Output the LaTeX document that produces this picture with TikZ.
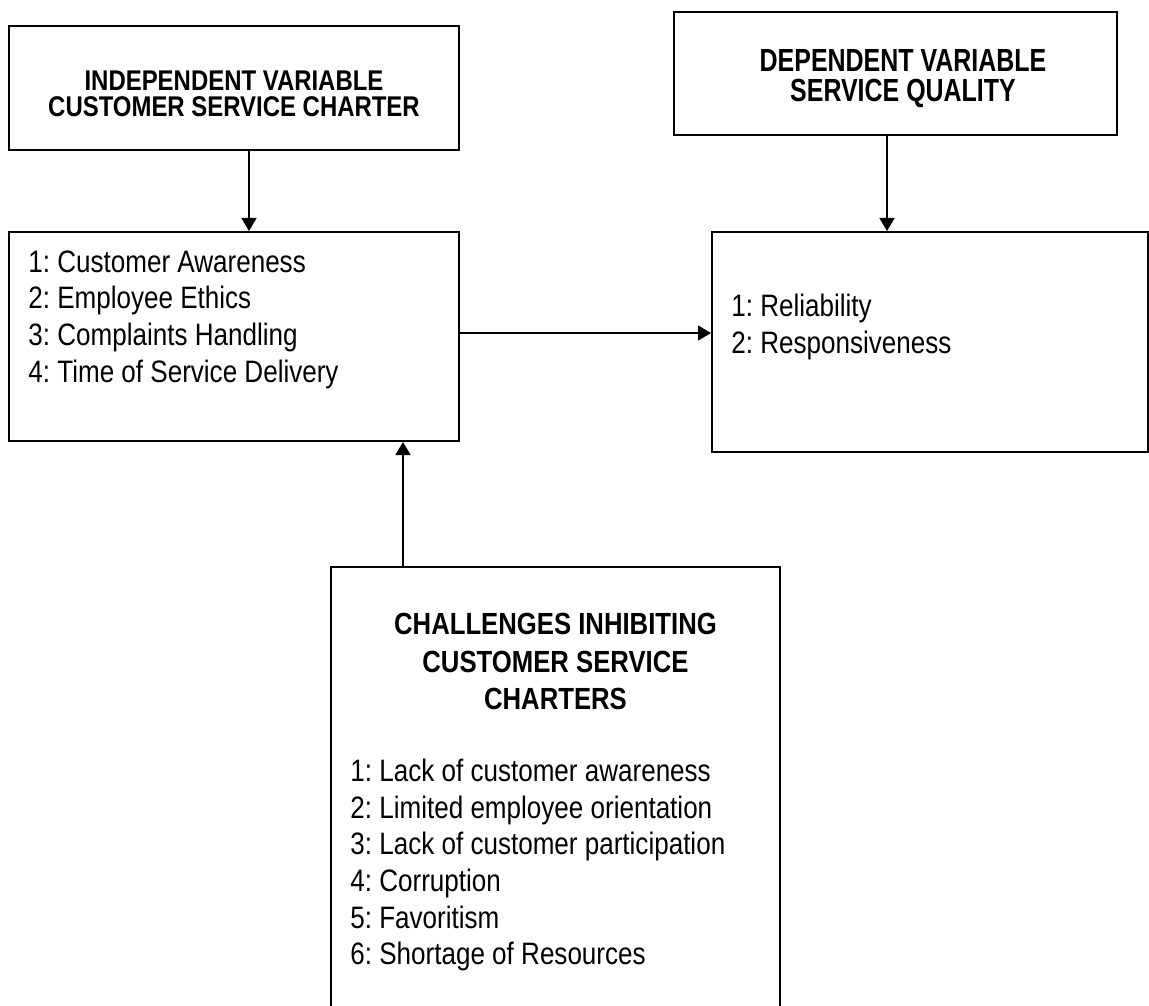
\documentclass[tikz,border=0pt]{standalone}
\usepackage{fontspec}
\setmainfont{Liberation Sans}[FakeStretch=0.84]
\newfontfamily\depfont{Liberation Sans}[FakeStretch=0.78]
\usetikzlibrary{arrows.meta}
\frenchspacing

\begin{document}
\begin{tikzpicture}[x=0.5pt, y=-0.5pt,
  box/.style={draw, line width=1pt, inner sep=0pt},
  head/.style={font=\bfseries\fontsize{14.25}{13.25}\selectfont, align=center, inner sep=0pt, anchor=north},
  items/.style={font=\fontsize{15.5}{18.35}\selectfont, align=left, inner sep=0pt, anchor=north west},
  arr/.style={-{Triangle[length=6.5pt, width=7.5pt]}, line width=0.7pt}]
\fill[white] (0,0) rectangle (1149,1005);
\useasboundingbox (0,0) rectangle (1149,1005);
\clip (0,0) rectangle (1149,1005);

% boxes
\node[box, minimum width=225pt, minimum height=62pt] (indep) at (234,88) {};
\node[box, minimum width=221.5pt, minimum height=61.5pt] (dep) at (895.5,73.5) {};
\node[box, minimum width=225pt, minimum height=104.5pt] (dims) at (234,336.5) {};
\node[box, minimum width=218pt, minimum height=110pt] (qual) at (930,342) {};
\node[box, minimum width=224.5pt, minimum height=224pt] (chal) at (555.5,791) {};

% headings
\node[head] (indeptxt) at (234,70) {INDEPENDENT VARIABLE\\CUSTOMER SERVICE CHARTER};
\node[head, font=\bfseries\depfont\fontsize{16}{15}\selectfont] (deptxt) at (903,49) {DEPENDENT VARIABLE\\SERVICE QUALITY};
\node[head, font=\bfseries\fontsize{15.3}{18.75}\selectfont] (chaltxt) at (555.5,613) {CHALLENGES INHIBITING\\CUSTOMER SERVICE\\CHARTERS};

% lists
\node[items] (dimslist) at (28,250) {1: Customer Awareness\\2: Employee Ethics\\3: Complaints Handling\\4: Time of Service Delivery};
\node[items] (quallist) at (731,294) {1: Reliability\\2: Responsiveness};
\node[items] (challist) at (350,758.5) {1: Lack of customer awareness\\2: Limited employee orientation\\3: Lack of customer participation\\4: Corruption\\5: Favoritism\\6: Shortage of Resources};

% arrows
\draw[arr] ([xshift=7.5pt]indep.south) -- ([xshift=7.5pt]dims.north);
\draw[arr] ([xshift=-4.25pt]dep.south) -- ([xshift=-4.25pt]dep.south |- qual.north);
\draw[arr] ([yshift=1.75pt]dims.east) -- ([yshift=1.75pt]dims.east -| qual.west);
\draw[arr] ([xshift=-76.25pt]chal.north) -- ([xshift=-76.25pt]chal.north |- dims.south);
\end{tikzpicture}
\end{document}
